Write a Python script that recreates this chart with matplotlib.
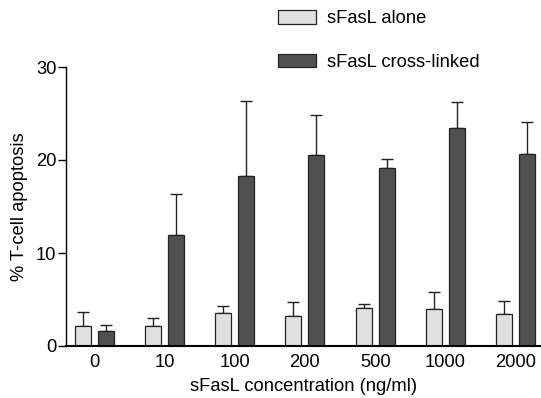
import matplotlib
matplotlib.use("Agg")
import matplotlib.pyplot as plt
import numpy as np

plt.rcParams['font.family'] = ['Liberation Sans', 'DejaVu Sans']

categories = ["0", "10", "100", "200", "500", "1000", "2000"]
alone = [2.2, 2.2, 3.5, 3.2, 4.1, 4.0, 3.4]
alone_err = [1.5, 0.8, 0.85, 1.55, 0.4, 1.85, 1.45]
crosslinked = [1.6, 11.9, 18.3, 20.5, 19.1, 23.4, 20.6]
crosslinked_err = [0.7, 4.4, 8.0, 4.3, 1.0, 2.8, 3.5]
series_labels = ["sFasL alone", "sFasL cross-linked"]

fs = 13.2
fig = plt.figure(figsize=(5.41, 3.98), dpi=100)
ax = fig.add_axes([66/541, 52/398, 1 - 66/541, (346-67)/398])

x = np.arange(len(categories))
w = 0.228
off = 0.164
b1 = ax.bar(x - off, alone, w, color='#e0e0e0', edgecolor='#222222', linewidth=0.9,
            label=series_labels[0], zorder=2)
b2 = ax.bar(x + off, crosslinked, w, color='#505050', edgecolor='#222222', linewidth=0.9,
            label=series_labels[1], zorder=2)
ax.errorbar(x - off, alone, yerr=[np.zeros(len(x)), alone_err], fmt='none',
            ecolor='#222222', elinewidth=1, capsize=4, capthick=1, zorder=1)
ax.errorbar(x + off, crosslinked, yerr=[np.zeros(len(x)), crosslinked_err], fmt='none',
            ecolor='#222222', elinewidth=1, capsize=4, capthick=1, zorder=1)

ax.set_xlim(-0.4, 6.36)
ax.set_ylim(0, 30)
ax.set_yticks([0, 10, 20, 30])
ax.set_xticks(x)
ax.set_xticklabels(categories)
ax.tick_params(axis='x', length=0, pad=6, labelsize=fs)
ax.tick_params(axis='y', length=6, width=1, pad=1, labelsize=fs)
for s in ['top', 'right']:
    ax.spines[s].set_visible(False)
ax.spines['left'].set_linewidth(1)
ax.spines['bottom'].set_linewidth(1.5)
ax.set_xlabel("sFasL concentration (ng/ml)", fontsize=fs, labelpad=5)
ax.set_ylabel("% T-cell apoptosis", fontsize=fs, labelpad=6)

fig.legend(handles=[b1, b2], labels=series_labels, loc='upper left',
           bbox_to_anchor=(278/541, 1 - 10/398), frameon=False, fontsize=fs,
           handlelength=2.05, handleheight=0.76, handletextpad=0.6,
           labelspacing=1.45, borderpad=0, borderaxespad=0)

fig.savefig("out.png", dpi=100)
